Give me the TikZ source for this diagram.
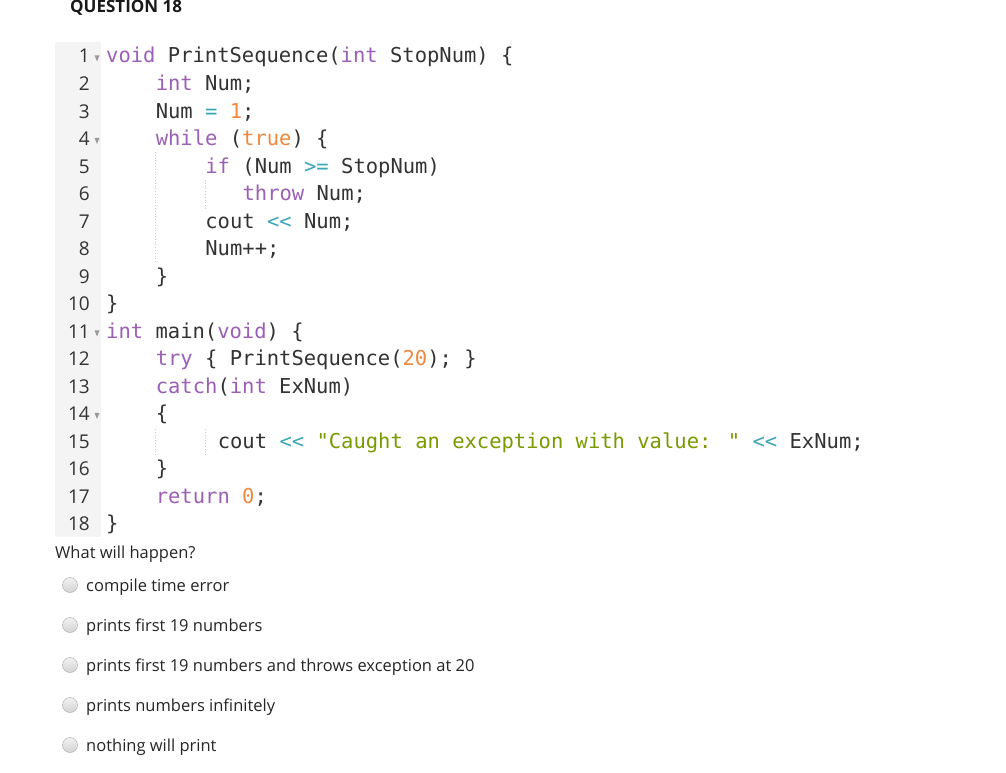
\documentclass[tikz,border=0pt]{standalone}
\usepackage{fontspec}
\setmainfont{Open Sans}
\newfontfamily\codefont{DejaVu Sans Mono}
\usetikzlibrary{shapes.geometric}
\definecolor{kw}{HTML}{9B5FB5}
\definecolor{nm}{HTML}{F0883E}
\definecolor{op}{HTML}{3AA6B5}
\definecolor{st}{HTML}{7A9A01}
\definecolor{tx}{HTML}{333333}
\definecolor{gut}{HTML}{F4F4F4}
\newcommand{\ckw}[1]{\textcolor{kw}{#1}}
\newcommand{\cnm}[1]{\textcolor{nm}{#1}}
\newcommand{\cop}[1]{\textcolor{op}{#1}}
\newcommand{\cst}[1]{\textcolor{st}{#1}}
\begin{document}
\begin{tikzpicture}[x=1pt,y=-1pt,
  code/.style={anchor=base west,inner sep=0,font=\codefont\fontsize{20.5}{24}\selectfont,text=tx},
  lnum/.style={anchor=base east,inner sep=0,font=\fontsize{19}{22}\selectfont,text=tx},
  fold/.style={fill=gray!80,isosceles triangle,shape border rotate=-90,minimum width=5pt,minimum height=3pt,inner sep=0},
  guide/.style={gray!40,dotted,line width=0.8pt},
  opt/.style={anchor=base west,inner sep=0,font=\fontsize{16.5}{20}\selectfont,text=black!85},
  radio/.style={circle,draw=gray!70,minimum size=15pt,inner sep=0,top color=gray!10,bottom color=gray!35}]
\useasboundingbox (0,0) rectangle (1006,773);
\fill[white] (0,0) rectangle (1006,773);
\node[anchor=base west,inner sep=0,font=\bfseries\fontsize{17}{20}\selectfont,text=black!90] (title) at (70,13) {QUESTION 18};
\fill[gut] (55,42) rectangle (101,537);
\foreach \i in {1,...,18}{
  \pgfmathsetmacro{\yy}{63+27.5*(\i-1)}
  \node[lnum] (ln\i) at (90,\yy) {\i};
}
\foreach \i in {1,4,11,14}{
  \pgfmathsetmacro{\yy}{57+27.5*(\i-1)}
  \node[fold] (f\i) at (97,\yy) {};
}
\draw[guide] (155.5,152) -- (155.5,264);
\draw[guide] (205,180) -- (205,209);
\draw[guide] (155.5,429) -- (155.5,457);
\draw[guide] (205,429) -- (205,457);
\node[code] (c1) at (106,63) {\ckw{void} PrintSequence(\ckw{int} StopNum) \{};
\node[code] (c2) at (155.6,90.5) {\ckw{int} Num;};
\node[code] (c3) at (155.6,118) {Num \cop{=} \cnm{1};};
\node[code] (c4) at (155.6,145.5) {\ckw{while} (\cnm{true}) \{};
\node[code] (c5) at (205.2,173) {\ckw{if} (Num \cop{>=} StopNum)};
\node[code] (c6) at (242.4,200.5) {\ckw{throw} Num;};
\node[code] (c7) at (205.2,228) {cout \cop{<<} Num;};
\node[code] (c8) at (205.2,255.5) {Num++;};
\node[code] (c9) at (155.6,283) {\}};
\node[code] (c10) at (106,310.5) {\}};
\node[code] (c11) at (106,338) {\ckw{int} main(\ckw{void}) \{};
\node[code] (c12) at (155.6,365.5) {\ckw{try} \{ PrintSequence(\cnm{20}); \}};
\node[code] (c13) at (155.6,393) {\ckw{catch}(\ckw{int} ExNum)};
\node[code] (c14) at (155.6,420.5) {\{};
\node[code] (c15) at (217.6,448) {cout \cop{<<} \cst{"Caught an exception with value: "} \cop{<<} ExNum;};
\node[code] (c16) at (155.6,475.5) {\}};
\node[code] (c17) at (155.6,503) {\ckw{return} \cnm{0};};
\node[code] (c18) at (106,530.5) {\}};
\node[anchor=base west,inner sep=0,font=\fontsize{16.5}{20}\selectfont,text=black!85] (q) at (55,558) {What will happen?};
\foreach \t [count=\i] in {compile time error,prints first 19 numbers,prints first 19 numbers and throws exception at 20,prints numbers infinitely,nothing will print}{
  \pgfmathsetmacro{\yy}{585+40*(\i-1)}
  \node[radio] (r\i) at (70,\yy) {};
  \node[opt] (o\i) at (86,\yy+6) {\t};
}
\end{tikzpicture}
\end{document}
